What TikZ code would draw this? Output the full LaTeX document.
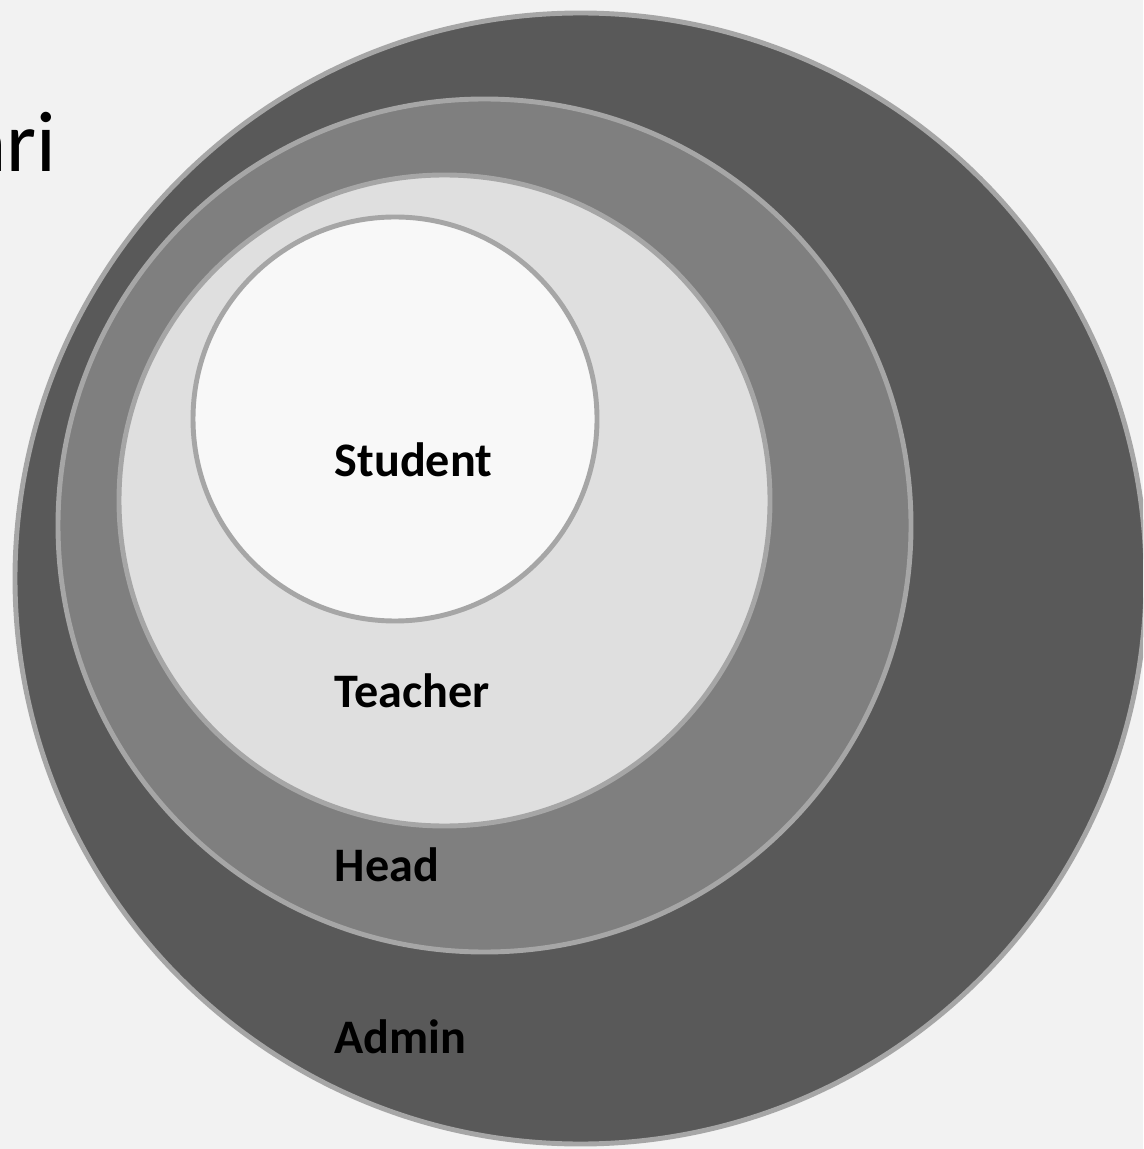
\documentclass[tikz,border=0pt]{standalone}
\usepackage{fontspec}
\setmainfont{Carlito}
\definecolor{backgr}{HTML}{F2F2F2}
\definecolor{ringline}{HTML}{A6A6A6}
\definecolor{adminfill}{HTML}{595959}
\definecolor{headfill}{HTML}{7F7F7F}
\definecolor{teacherfill}{HTML}{DFDFDF}
\definecolor{studentfill}{HTML}{F8F8F8}
\tikzset{
  ring/.style={draw=ringline, line width=1.4pt},
  rolelabel/.style={anchor=base west, inner sep=0pt, font=\bfseries\fontsize{13.7}{16}\selectfont},
}

\begin{document}
\begin{tikzpicture}[x=0.1mm,y=-0.1mm]
\useasboundingbox (0,0) rectangle (1143,1149);
\clip (0,0) rectangle (1143,1149);
\fill[backgr] (0,0) rectangle (1143,1149);
% nested circles
\coordinate (A) at (580.5,578.5);
\coordinate (H) at (484.5,525.5);
\coordinate (T) at (444.5,500.5);
\coordinate (S) at (395,419);
\filldraw[ring, fill=adminfill] (A) circle (565.5);
\filldraw[ring, fill=headfill] (H) circle (426.5);
\filldraw[ring, fill=teacherfill] (T) circle (325.5);
\filldraw[ring, fill=studentfill] (S) circle (202);
% labels
\node[rolelabel] (student) at (334,477) {Student};
\node[rolelabel] (teacher) at (334,707) {Teacher};
\node[rolelabel] (head) at (334,881) {Head};
\node[rolelabel] (admin) at (334,1053) {Admin};
\node[anchor=base east, inner sep=0pt, font=\fontsize{24.5}{28}\selectfont] (title) at (57,172) {ari};
\end{tikzpicture}
\end{document}
